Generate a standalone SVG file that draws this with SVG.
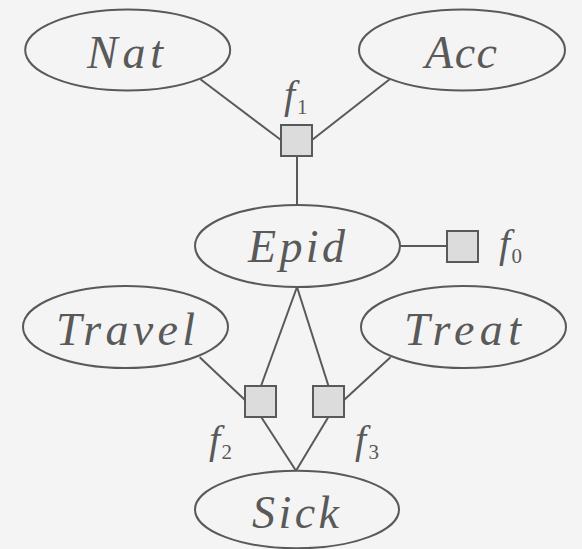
<svg xmlns="http://www.w3.org/2000/svg" width="582" height="549" viewBox="0 0 582 549">
<style>
.node ellipse{fill:none;stroke:#595959;stroke-width:2}
.fac rect{fill:#dcdcdc;stroke:#595959;stroke-width:2}
.lbl{font-family:"Liberation Serif",serif;font-style:italic;font-size:46px;fill:#595959}
.f{font-family:"Liberation Serif",serif;font-style:italic;font-size:40px;fill:#595959}
.sub{font-family:"Liberation Serif",serif;font-size:21px;fill:#595959}
#edges line{stroke:#595959;stroke-width:2}
</style>
<rect width="582" height="549" fill="#f4f4f4"/>
<g id="edges">
<line x1="200.4" y1="79.3" x2="281" y2="140"/>
<line x1="389.7" y1="79.3" x2="312" y2="140"/>
<line x1="297" y1="156" x2="297" y2="205"/>
<line x1="400" y1="246" x2="447" y2="246"/>
<line x1="297" y1="287" x2="261" y2="386"/>
<line x1="297" y1="287" x2="328.5" y2="386"/>
<line x1="199.7" y1="357.3" x2="245" y2="400"/>
<line x1="390.5" y1="357.3" x2="344" y2="400"/>
<line x1="261" y1="416.7" x2="296" y2="470.7"/>
<line x1="328.5" y1="416.7" x2="296" y2="470.7"/>
</g>
<g id="Nat" class="node"><ellipse cx="127.7" cy="50" rx="102.5" ry="40.5"/><text class="lbl" x="87" y="68" textLength="76" lengthAdjust="spacing">Nat</text></g>
<g id="Acc" class="node"><ellipse cx="462" cy="50" rx="103" ry="40.5"/><text class="lbl" x="425" y="68" textLength="72" lengthAdjust="spacing">Acc</text></g>
<g id="Epid" class="node"><ellipse cx="297.5" cy="246" rx="102.5" ry="41"/><text class="lbl" x="248" y="262" textLength="97" lengthAdjust="spacing">Epid</text></g>
<g id="Travel" class="node"><ellipse cx="125.5" cy="327" rx="102.5" ry="41"/><text class="lbl" x="56" y="345" textLength="139" lengthAdjust="spacing">Travel</text></g>
<g id="Treat" class="node"><ellipse cx="463.5" cy="327" rx="102.5" ry="41"/><text class="lbl" x="404" y="345" textLength="117" lengthAdjust="spacing">Treat</text></g>
<g id="Sick" class="node"><ellipse cx="297" cy="509.5" rx="102" ry="38.8"/><text class="lbl" x="252" y="528" textLength="87" lengthAdjust="spacing">Sick</text></g>
<g id="f1" class="fac"><rect x="281" y="125" width="31" height="31"/><text class="f" x="284" y="108">f</text><text class="sub" x="297" y="114.3">1</text></g>
<g id="f0" class="fac"><rect x="447" y="231" width="31" height="31"/><text class="f" x="499" y="257">f</text><text class="sub" x="511.5" y="263.3">0</text></g>
<g id="f2" class="fac"><rect x="245" y="386" width="31" height="31"/><text class="f" x="209" y="453">f</text><text class="sub" x="221.5" y="459.3">2</text></g>
<g id="f3" class="fac"><rect x="313" y="386" width="31" height="31"/><text class="f" x="355" y="453">f</text><text class="sub" x="368.5" y="459.3">3</text></g>
</svg>
